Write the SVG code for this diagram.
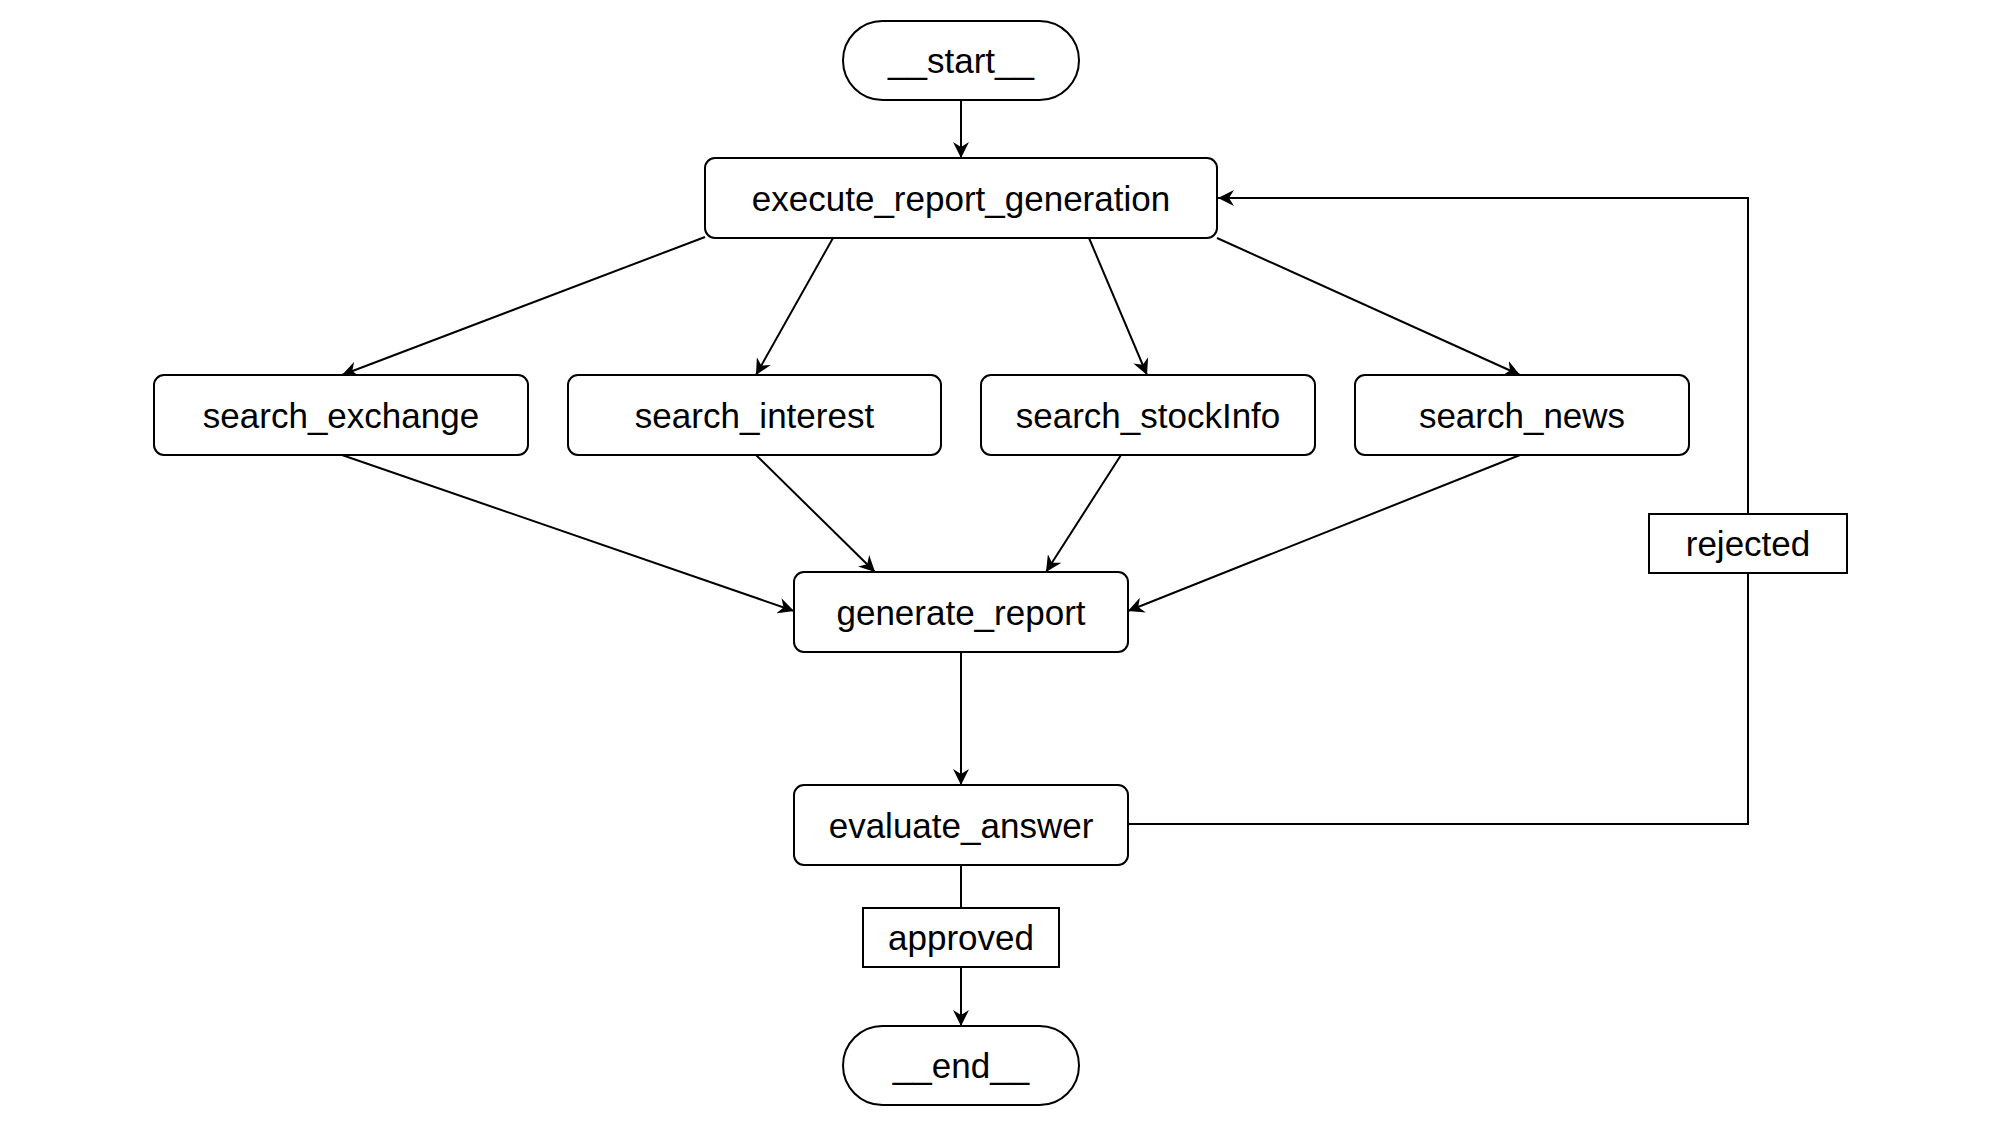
<svg xmlns="http://www.w3.org/2000/svg" width="2000" height="1125" viewBox="0 0 2000 1125">
<style>
.node{fill:#fff;stroke:#000;stroke-width:2}
.lbl{fill:#fff;stroke:#000;stroke-width:2}
.t{font-family:"Liberation Sans",Arial,Helvetica,sans-serif;font-size:35px;fill:#000;text-anchor:middle}
.e{fill:none;stroke:#000;stroke-width:2}
</style>
<defs>
<marker id="arr" viewBox="0 0 16 16" refX="16" refY="8" markerWidth="16" markerHeight="16" orient="auto" markerUnits="userSpaceOnUse">
<path d="M0,0 L16,8 L0,16 L5,8 z" fill="#000"/>
</marker>
</defs>
<rect width="2000" height="1125" fill="#fff"/>
<g id="connectors">
<line class="e" x1="961" y1="100" x2="961" y2="158" marker-end="url(#arr)"/>
<line class="e" x1="705" y1="237" x2="342" y2="375" marker-end="url(#arr)"/>
<line class="e" x1="833" y1="238" x2="756" y2="375" marker-end="url(#arr)"/>
<line class="e" x1="1089" y1="238" x2="1147" y2="375" marker-end="url(#arr)"/>
<line class="e" x1="1217" y1="238" x2="1520" y2="375" marker-end="url(#arr)"/>
<line class="e" x1="342" y1="455" x2="794" y2="611" marker-end="url(#arr)"/>
<line class="e" x1="756" y1="455" x2="875" y2="572" marker-end="url(#arr)"/>
<line class="e" x1="1121" y1="455" x2="1046" y2="572" marker-end="url(#arr)"/>
<line class="e" x1="1520" y1="455" x2="1128" y2="611" marker-end="url(#arr)"/>
<line class="e" x1="961" y1="652" x2="961" y2="785" marker-end="url(#arr)"/>
<polyline class="e" points="1128,824 1748,824 1748,198 1218,198" marker-end="url(#arr)"/>
<line class="e" x1="961" y1="865" x2="961" y2="1026" marker-end="url(#arr)"/>
<g id="label-rejected">
<rect class="lbl" x="1649" y="514" width="198" height="59"/>
<text class="t" x="1748" y="556">rejected</text>
</g>
<g id="label-approved">
<rect class="lbl" x="863" y="908" width="196" height="59"/>
<text class="t" x="961" y="950">approved</text>
</g>
</g>
<g id="start">
<rect class="node" x="843" y="21" width="236" height="79" rx="39.5"/>
<text class="t" x="961" y="73">__start__</text>
</g>
<g id="execute_report_generation">
<rect class="node" x="705" y="158" width="512" height="80" rx="10"/>
<text class="t" x="961" y="211">execute_report_generation</text>
</g>
<g id="search_exchange">
<rect class="node" x="154" y="375" width="374" height="80" rx="10"/>
<text class="t" x="341" y="428">search_exchange</text>
</g>
<g id="search_interest">
<rect class="node" x="568" y="375" width="373" height="80" rx="10"/>
<text class="t" x="754.5" y="428">search_interest</text>
</g>
<g id="search_stockInfo">
<rect class="node" x="981" y="375" width="334" height="80" rx="10"/>
<text class="t" x="1148" y="428">search_stockInfo</text>
</g>
<g id="search_news">
<rect class="node" x="1355" y="375" width="334" height="80" rx="10"/>
<text class="t" x="1522" y="428">search_news</text>
</g>
<g id="generate_report">
<rect class="node" x="794" y="572" width="334" height="80" rx="10"/>
<text class="t" x="961" y="625">generate_report</text>
</g>
<g id="evaluate_answer">
<rect class="node" x="794" y="785" width="334" height="80" rx="10"/>
<text class="t" x="961" y="838">evaluate_answer</text>
</g>
<g id="end">
<rect class="node" x="843" y="1026" width="236" height="79" rx="39.5"/>
<text class="t" x="961" y="1078">__end__</text>
</g>
</svg>
